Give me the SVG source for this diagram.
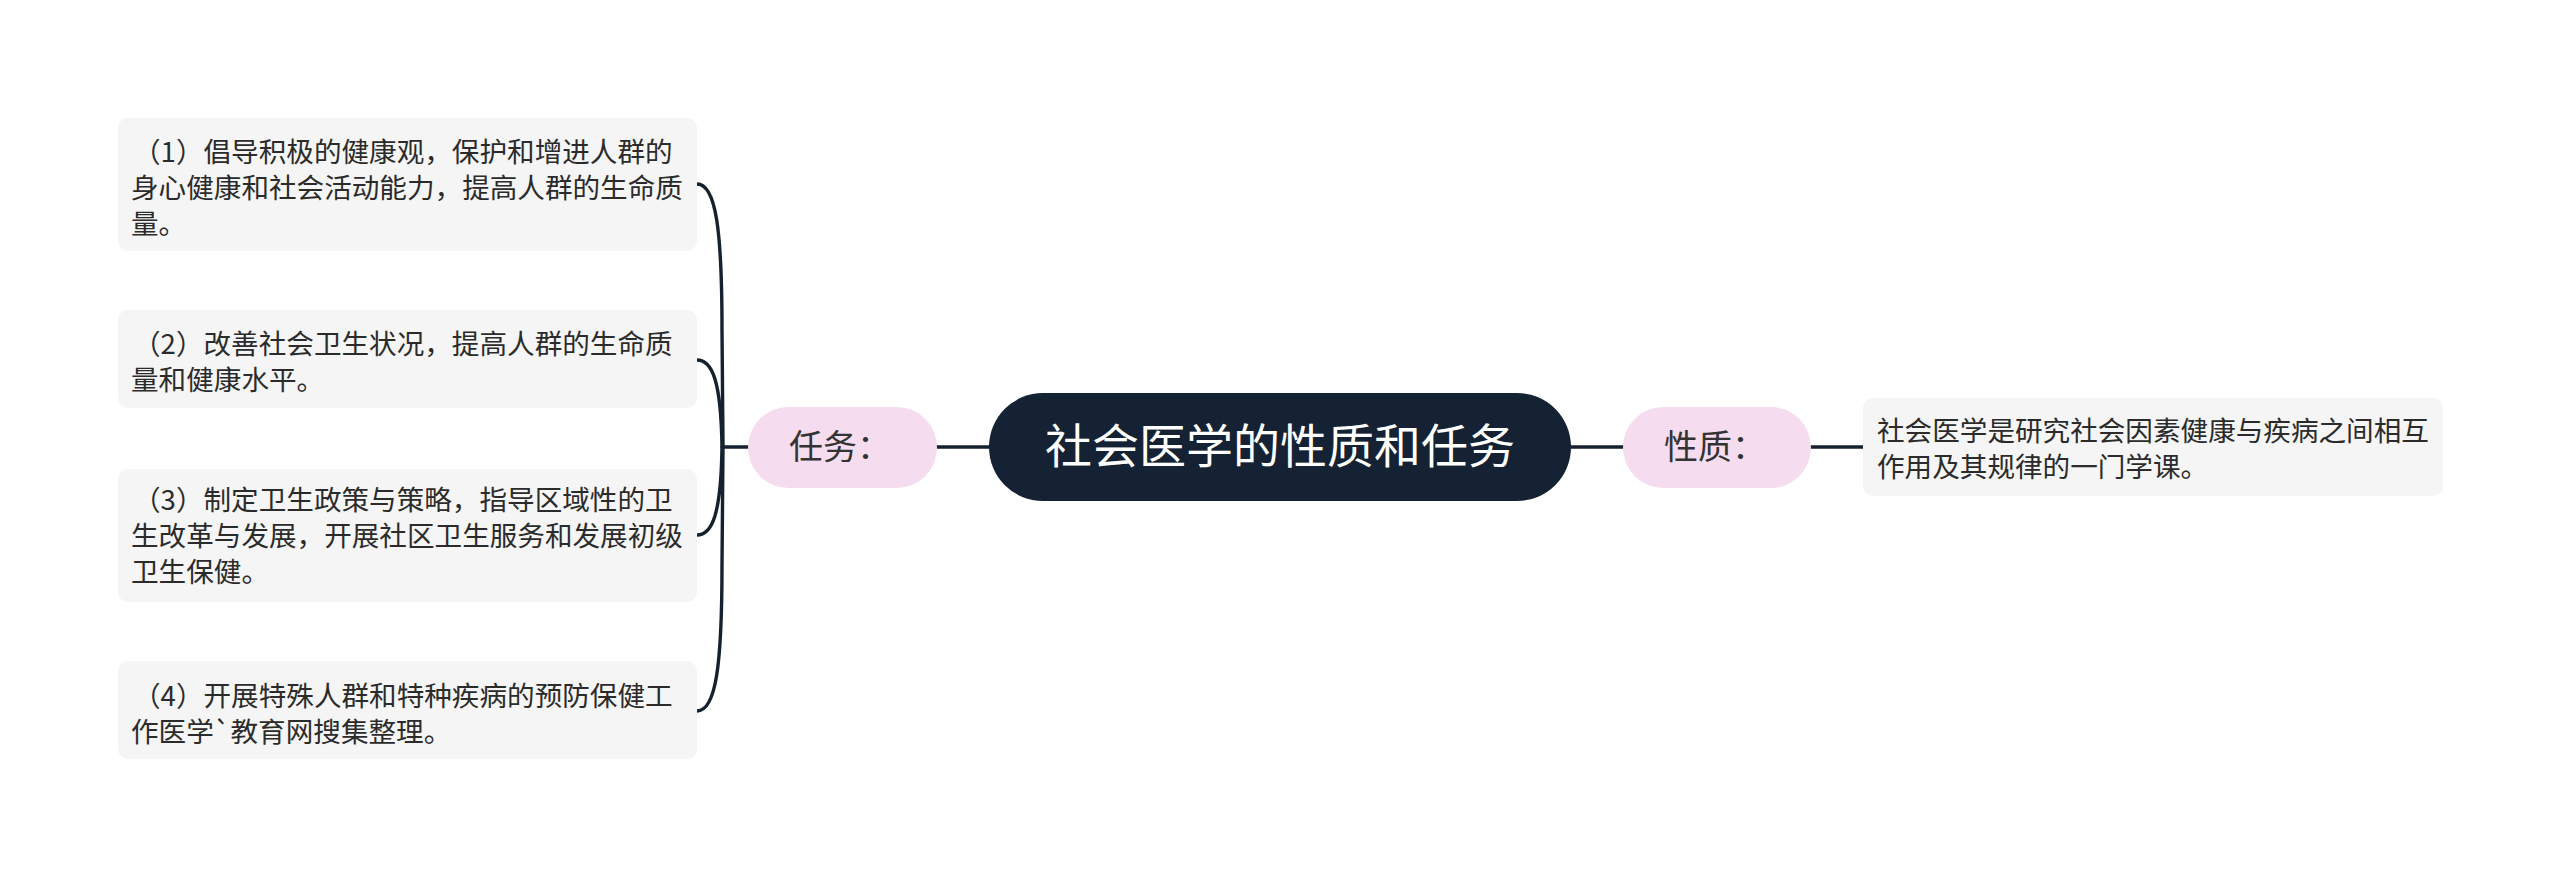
<svg xmlns="http://www.w3.org/2000/svg" width="2560" height="878" viewBox="0 0 2560 878">
<style>
.box{fill:#f5f5f5}
.t{font-family:"Noto Sans CJK SC","Noto Sans",sans-serif;font-size:27.6px;fill:#2b2b2b}
.sub{fill:#f5dcef}
.st{font-family:"Noto Sans CJK SC","Noto Sans",sans-serif;font-size:34px;fill:#333}
.ln{fill:none;stroke:#15212f;stroke-width:3.4;stroke-linecap:round}
</style>
<rect width="2560" height="878" fill="#ffffff"/>
<g id="connectors">
<path class="ln" d="M 989 447 L 937 447"/>
<path class="ln" d="M 748 447 L 723 447"/>
<path class="ln" d="M 697 184 C 716 184 722 230 722 330 L 723 447"/>
<path class="ln" d="M 697 360 C 712 360 721 380 722 447"/>
<path class="ln" d="M 697 535 C 712 535 721 515 722 447"/>
<path class="ln" d="M 697 711 C 716 711 722 665 722 565 L 723 447"/>
<path class="ln" d="M 1571 447 L 1623 447"/>
<path class="ln" d="M 1811 447 L 1863 447"/>
</g>
<g id="root">
<rect x="989" y="393" width="582" height="108" rx="54" fill="#142233"/>
<text x="1280" y="463" font-family="Noto Sans CJK SC, Noto Sans, sans-serif" font-size="47" fill="#ffffff" text-anchor="middle">社会医学的性质和任务</text>
</g>
<g id="renwu">
<rect class="sub" x="748" y="407" width="189" height="81" rx="40.5"/>
<text class="st" x="789" y="459">任务：</text>
</g>
<g id="xingzhi">
<rect class="sub" x="1623" y="407" width="188" height="81" rx="40.5"/>
<text class="st" x="1664" y="459">性质：</text>
</g>
<g id="xingzhi-desc">
<rect class="box" x="1863" y="398" width="580" height="98" rx="10"/>
<text class="t" x="1877" y="441">社会医学是研究社会因素健康与疾病之间相互</text>
<text class="t" x="1877" y="477">作用及其规律的一门学课。</text>
</g>
<g id="task1">
<rect class="box" x="118" y="118" width="579" height="133" rx="10"/>
<text class="t" x="133" y="162">（1）倡导积极的健康观，保护和增进人群的</text>
<text class="t" x="131" y="198">身心健康和社会活动能力，提高人群的生命质</text>
<text class="t" x="131" y="234">量。</text>
</g>
<g id="task2">
<rect class="box" x="118" y="310" width="579" height="98" rx="10"/>
<text class="t" x="133" y="354">（2）改善社会卫生状况，提高人群的生命质</text>
<text class="t" x="131" y="390">量和健康水平。</text>
</g>
<g id="task3">
<rect class="box" x="118" y="469" width="579" height="133" rx="10"/>
<text class="t" x="133" y="510">（3）制定卫生政策与策略，指导区域性的卫</text>
<text class="t" x="131" y="546">生改革与发展，开展社区卫生服务和发展初级</text>
<text class="t" x="131" y="582">卫生保健。</text>
</g>
<g id="task4">
<rect class="box" x="118" y="661" width="579" height="98" rx="10"/>
<text class="t" x="133" y="706">（4）开展特殊人群和特种疾病的预防保健工</text>
<text class="t" x="131" y="742">作医学`教育网搜集整理。</text>
</g>
</svg>
